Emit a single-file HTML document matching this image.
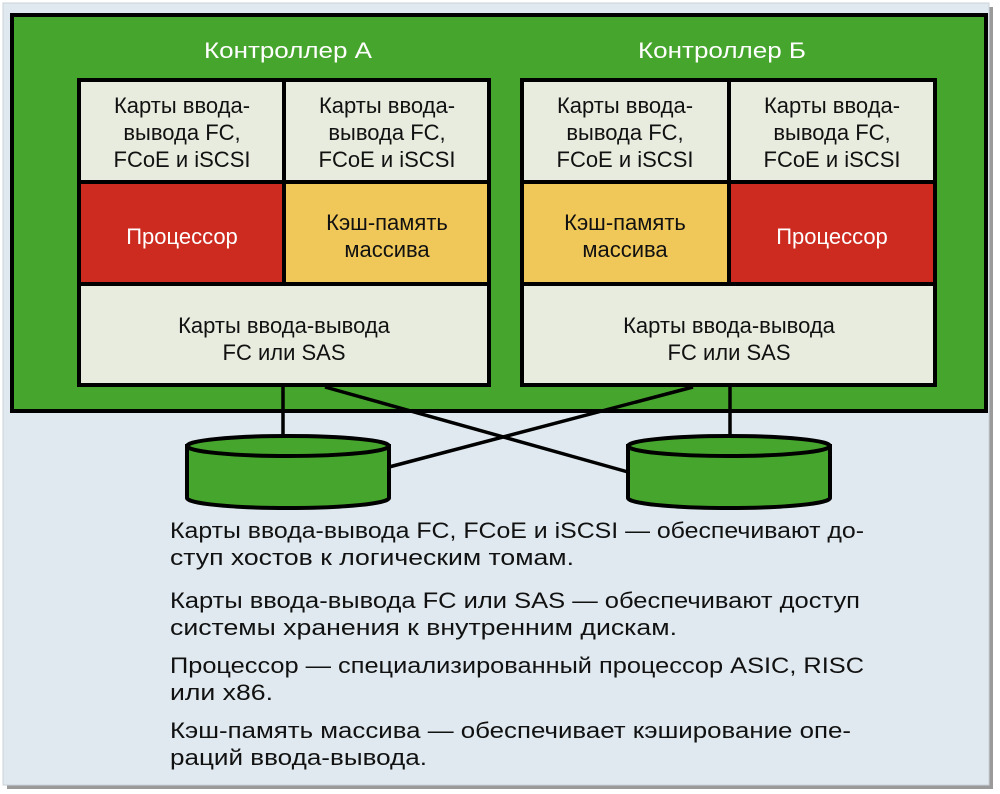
<!DOCTYPE html>
<html><head><meta charset="utf-8"><style>
html,body{margin:0;padding:0;background:#fff;}
svg{display:block;}
text{font-family:"Liberation Sans",sans-serif;}
</style></head><body>
<svg width="1000" height="794" viewBox="0 0 1000 794" xmlns="http://www.w3.org/2000/svg">
<rect x="0" y="0" width="1000" height="794" fill="#fff"/>
<rect x="7" y="7" width="986" height="782" fill="#9a9a9a"/>
<rect x="3" y="3" width="986" height="782" fill="#dfe9ef" stroke="#c9d3d9" stroke-width="1"/>
<rect x="12" y="15" width="974" height="396" fill="#46a52c" stroke="#000" stroke-width="4"/>
<g font-size="22" fill="#fff" text-anchor="middle">
<text x="288" y="58" textLength="168" lengthAdjust="spacingAndGlyphs">Контроллер А</text>
<text x="722" y="58" textLength="168" lengthAdjust="spacingAndGlyphs">Контроллер Б</text>
</g>
<g stroke="#000" stroke-width="4">
<rect x="79" y="80" width="410" height="305" fill="#e8ecdf"/>
<rect x="79" y="182" width="205" height="102" fill="#cd2a20"/>
<rect x="284" y="182" width="205" height="102" fill="#f0c85a"/>
<line x1="284" y1="80" x2="284" y2="284"/>
<line x1="79" y1="284" x2="489" y2="284"/>
<rect x="522" y="80" width="413" height="305" fill="#e8ecdf"/>
<rect x="522" y="182" width="207" height="102" fill="#f0c85a"/>
<rect x="729" y="182" width="206" height="102" fill="#cd2a20"/>
<line x1="729" y1="80" x2="729" y2="284"/>
<line x1="522" y1="284" x2="935" y2="284"/>
</g>
<g font-size="22" fill="#111" text-anchor="middle">
<text x="182" y="113">Карты ввода-</text><text x="182" y="140">вывода FC,</text><text x="182" y="167">FCoE и iSCSI</text>
<text x="387" y="113">Карты ввода-</text><text x="387" y="140">вывода FC,</text><text x="387" y="167">FCoE и iSCSI</text>
<text x="625" y="113">Карты ввода-</text><text x="625" y="140">вывода FC,</text><text x="625" y="167">FCoE и iSCSI</text>
<text x="832" y="113">Карты ввода-</text><text x="832" y="140">вывода FC,</text><text x="832" y="167">FCoE и iSCSI</text>
<text x="387" y="230">Кэш-память</text><text x="387" y="257">массива</text>
<text x="625" y="230">Кэш-память</text><text x="625" y="257">массива</text>
<text x="284" y="333">Карты ввода-вывода</text><text x="284" y="360">FC или SAS</text>
<text x="729" y="333">Карты ввода-вывода</text><text x="729" y="360">FC или SAS</text>
</g>
<g font-size="22" fill="#fff" text-anchor="middle">
<text x="182" y="244">Процессор</text>
<text x="832" y="244">Процессор</text>
</g>
<g stroke="#000" stroke-width="3.5" fill="none">
<line x1="283" y1="387" x2="283" y2="438"/>
<line x1="730" y1="387" x2="730" y2="438"/>
<line x1="325" y1="387" x2="628" y2="472"/>
<line x1="693" y1="387" x2="389" y2="467"/>
</g>
<g stroke="#000" stroke-width="4" fill="#46a52c">
<path d="M187 446 L187 498 A101 10 0 0 0 389 498 L389 446 Z"/>
<ellipse cx="288" cy="446" rx="101" ry="10"/>
<path d="M628 446 L628 498 A101 10 0 0 0 830 498 L830 446 Z"/>
<ellipse cx="729" cy="446" rx="101" ry="10"/>
</g>
<g font-size="22" fill="#111">
<text x="170" y="538" textLength="694" lengthAdjust="spacingAndGlyphs">Карты ввода-вывода FC, FCoE и iSCSI — обеспечивают до-</text>
<text x="170" y="565" textLength="404" lengthAdjust="spacingAndGlyphs">ступ хостов к логическим томам.</text>
<text x="170" y="608" textLength="690" lengthAdjust="spacingAndGlyphs">Карты ввода-вывода FC или SAS — обеспечивают доступ</text>
<text x="170" y="635" textLength="507" lengthAdjust="spacingAndGlyphs">системы хранения к внутренним дискам.</text>
<text x="170" y="673" textLength="694" lengthAdjust="spacingAndGlyphs">Процессор — специализированный процессор ASIC, RISC</text>
<text x="170" y="700" textLength="103" lengthAdjust="spacingAndGlyphs">или x86.</text>
<text x="170" y="738" textLength="681" lengthAdjust="spacingAndGlyphs">Кэш-память массива — обеспечивает кэширование опе-</text>
<text x="170" y="765" textLength="257" lengthAdjust="spacingAndGlyphs">раций ввода-вывода.</text>
</g>
</svg>
</body></html>
